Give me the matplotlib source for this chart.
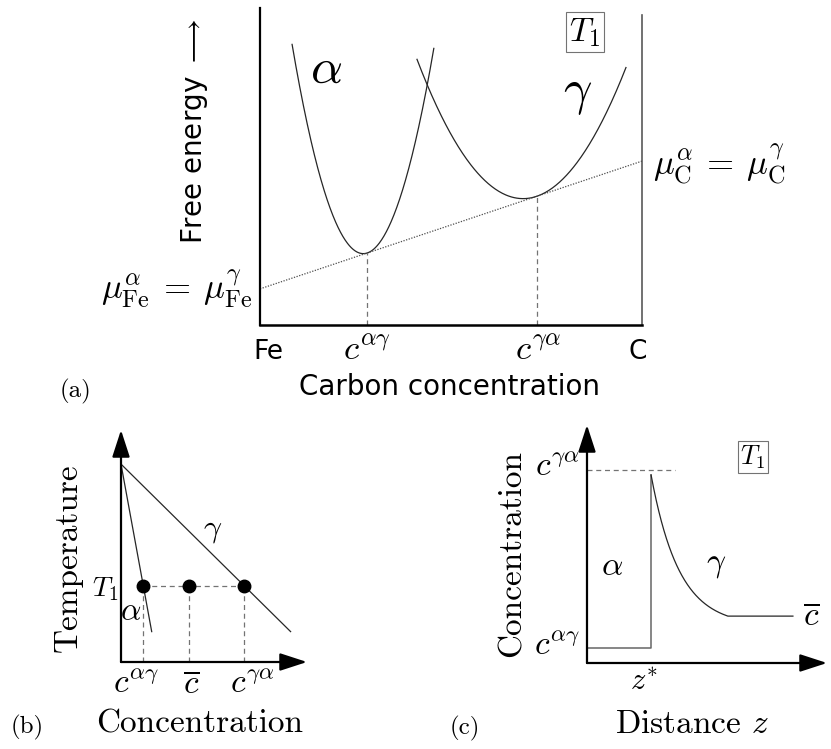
import numpy as np
import matplotlib
matplotlib.use('Agg')
import matplotlib.pyplot as plt

plt.rcParams['mathtext.fontset'] = 'cm'
plt.rcParams['font.family'] = ['DejaVu Sans']

# ---- (a) free energy vs carbon concentration ----
mu_fe = 0.114          # common tangent at the Fe side
mu_c = 0.517           # common tangent at the C side
c_ag_a = 0.281         # tangent point on alpha curve
c_ga_a = 0.724         # tangent point on gamma curve
k_alpha = 19.0
k_gamma = 5.7
alpha_span = [0.084, 0.455]
gamma_span = [0.411, 0.958]
ticks_a = [0.021, 0.281, 0.728, 0.99]
ticklabels_a = ['Fe', r'$c^{\alpha\gamma}$', r'$c^{\gamma\alpha}$', 'C']

# ---- (b) phase diagram ----
T_top = 0.853
T1 = 0.328
T_end = 0.131
c_at_T1 = [0.12, 0.364, 0.663]       # c^ag, c-bar, c^ga
ticks_b = [0.081, 0.376, 0.704]
ticklabels_b = [r'$c^{\alpha\gamma}$', r'$\overline{c}$', r'$c^{\gamma\alpha}$']

# ---- (c) concentration profile ----
z_star = 0.267
c_ga_c = 0.811
c_edge = 0.79
c_ag_c = 0.063
c_bar_c = 0.197
decay_len = 0.117
decay_width = 0.32
z_end = 0.858
dash_end = 0.367

fig = plt.figure(figsize=(8.31, 7.49), dpi=100)

gray = '0.45'
dark = '0.15'

# ================= (a) =================
ax = fig.add_axes([0.31288, 0.56609, 0.45969, 0.42323])
ax.set_xlim(0, 1)
ax.set_ylim(0, 1)
ax.set_xticks([])
ax.set_yticks([])
for s in ['top', 'right']:
    ax.spines[s].set_visible(False)
ax.spines['left'].set_linewidth(1.6)
ax.spines['bottom'].set_linewidth(1.8)
ax.plot([1, 1], [0, 0.978], color='0.35', lw=1.2, clip_on=False)

def tangent(x):
    return mu_fe + (mu_c - mu_fe) * x

xa = np.linspace(alpha_span[0], alpha_span[1], 300)
ax.plot(xa, tangent(xa) + k_alpha * (xa - c_ag_a) ** 2, color=dark, lw=0.9, clip_on=False)
xg = np.linspace(gamma_span[0], gamma_span[1], 300)
ax.plot(xg, tangent(xg) + k_gamma * (xg - c_ga_a) ** 2, color=dark, lw=0.9, clip_on=False)

ax.plot([0, 1], [mu_fe, mu_c], color='0.3', lw=0.9, ls=(0, (1, 1.2)))
for c in [c_ag_a, c_ga_a]:
    ax.plot([c, c], [0, tangent(c)], color=gray, lw=0.9, ls=(0, (4, 3)))

for x, lab in zip(ticks_a, ticklabels_a):
    fs = 19 if lab in ('Fe', 'C') else 25
    ax.text(x, -0.107, lab, ha='center', va='baseline', fontsize=fs)
ax.text(0.497, -0.221, 'Carbon concentration', ha='center', va='baseline', fontsize=20)
ax.text(-0.171, 0.61, r'Free energy $\longrightarrow$', rotation=90,
        ha='center', va='center', fontsize=20)
ax.text(-0.021, 0.11, r'$\mu^{\alpha}_{\mathrm{Fe}}\:=\:\mu^{\gamma}_{\mathrm{Fe}}$',
        ha='right', va='center', fontsize=25)
ax.text(1.028, 0.505, r'$\mu^{\alpha}_{\mathrm{C}}\:=\:\mu^{\gamma}_{\mathrm{C}}$',
        ha='left', va='center', fontsize=25)
ax.text(0.172, 0.808, r'$\alpha$', ha='center', va='center', fontsize=36)
ax.text(0.83, 0.732, r'$\gamma$', ha='center', va='center', fontsize=36)
ax.text(0.851, 0.924, r'$T_1$', ha='center', va='center', fontsize=24,
        bbox=dict(boxstyle='square,pad=0.1', fc='white', ec='0.45', lw=0.8))
ax.text(-0.482, -0.211, '(a)', ha='center', va='center', fontsize=18, family='cmr10')

arrow_kw = dict(arrowstyle='-|>,head_length=0.83,head_width=0.27', color='k',
                lw=1.6, mutation_scale=20, shrinkA=0, shrinkB=0)

def arrow_axes(ax):
    ax.set_xlim(0, 1)
    ax.set_ylim(0, 1)
    ax.axis('off')
    ax.annotate('', xy=(1, 0), xytext=(0, 0), arrowprops=arrow_kw, annotation_clip=False)
    ax.annotate('', xy=(0, 1), xytext=(0, 0), arrowprops=arrow_kw, annotation_clip=False)

# ================= (b) =================
bx = fig.add_axes([0.14561, 0.11615, 0.22383, 0.30975])
arrow_axes(bx)
for c in [c_at_T1[0], c_at_T1[2]]:
    x_end = c * (T_top - T_end) / (T_top - T1)
    bx.plot([0, x_end], [T_top, T_end], color=dark, lw=0.9)
bx.plot([c_at_T1[0], c_at_T1[2]], [T1, T1], color=gray, lw=0.9, ls=(0, (4, 3)))
for c in c_at_T1:
    bx.plot([c, c], [0, T1], color=gray, lw=0.9, ls=(0, (4, 3)))
bx.plot(c_at_T1, [T1] * 3, 'o', color='k', ms=9)
for x, lab in zip(ticks_b, ticklabels_b):
    bx.text(x, -0.134, lab, ha='center', va='baseline', fontsize=24)
bx.text(-0.016, 0.315, r'$T_1$', ha='right', va='center', fontsize=20)
bx.text(0.054, 0.216, r'$\alpha$', ha='center', va='center', fontsize=23)
bx.text(0.495, 0.569, r'$\gamma$', ha='center', va='center', fontsize=23)
bx.text(-0.285, 0.448, 'Temperature', rotation=90, ha='center', va='center',
        fontsize=24, family='cmr10')
bx.text(0.425, -0.306, 'Concentration', ha='center', va='baseline', fontsize=24, family='cmr10')
bx.text(-0.505, -0.284, '(b)', ha='center', va='center', fontsize=18, family='cmr10')

# ================= (c) =================
cx = fig.add_axes([0.70637, 0.11482, 0.28881, 0.31776])
arrow_axes(cx)
cx.plot([0, dash_end], [c_ga_c, c_ga_c], color=gray, lw=0.9, ls=(0, (4, 3)))
cx.plot([0, z_star, z_star], [c_ag_c, c_ag_c, c_edge], color='0.4', lw=1.1)
z = np.linspace(z_star, z_star + decay_width, 300)
tail = np.exp(-decay_width / decay_len)
shape = (np.exp(-(z - z_star) / decay_len) - tail) / (1 - tail)
cx.plot(np.r_[z, z_end], np.r_[c_bar_c + (c_edge - c_bar_c) * shape, c_bar_c],
        color=dark, lw=0.9)
cx.text(-0.029, 0.828, r'$c^{\gamma\alpha}$', ha='right', va='center', fontsize=24)
cx.text(-0.029, 0.076, r'$c^{\alpha\gamma}$', ha='right', va='center', fontsize=24)
cx.text(0.933, 0.197, r'$\overline{c}$', ha='center', va='center', fontsize=24)
cx.text(0.692, 0.866, r'$T_1$', ha='center', va='center', fontsize=19,
        bbox=dict(boxstyle='square,pad=0.1', fc='white', ec='0.45', lw=0.8))
cx.text(0.106, 0.408, r'$\alpha$', ha='center', va='center', fontsize=24)
cx.text(0.5375, 0.416, r'$\gamma$', ha='center', va='center', fontsize=24)
cx.text(0.2375, -0.076, r'$z^{*}$', ha='center', va='center', fontsize=22)
cx.text(-0.3125, 0.462, 'Concentration', rotation=90, ha='center', va='center',
        fontsize=24, family='cmr10')
cx.text(0.4375, -0.294, r'Distance $z$', ha='center', va='baseline', fontsize=24, family='cmr10')
cx.text(-0.51, -0.273, '(c)', ha='center', va='center', fontsize=18, family='cmr10')

fig.savefig('out.png', dpi=100)
